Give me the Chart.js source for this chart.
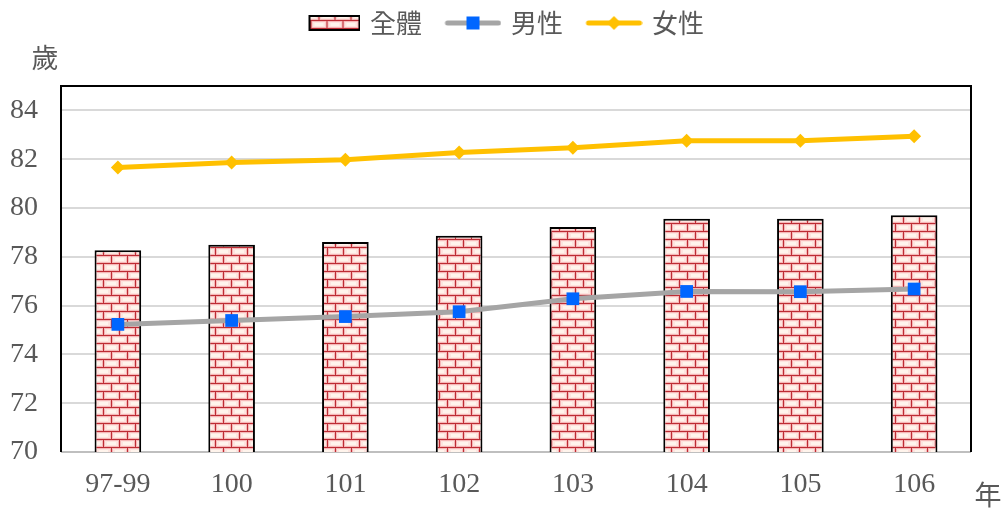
<!DOCTYPE html>
<html>
<head>
<meta charset="utf-8">
<script src="https://cdn.jsdelivr.net/npm/chart.js@4.4.1/dist/chart.umd.min.js"></script>
<style>
html,body{margin:0;padding:0;background:#fff;}
#wrap{width:1004px;height:510px;position:relative;}
</style>
</head>
<body>
<div id="wrap"><canvas id="c" width="1004" height="510"></canvas></div>
<script>
const categories = ['97-99', '100', '101', '102', '103', '104', '105', '106'];
const seriesNames = ['全體', '男性', '女性'];
const totalValues = [78.27, 78.49, 78.61, 78.86, 79.22, 79.56, 79.56, 79.70];
const maleValues = [75.23, 75.39, 75.55, 75.75, 76.28, 76.58, 76.57, 76.68];
const femaleValues = [81.66, 81.86, 81.98, 82.27, 82.47, 82.76, 82.76, 82.94];
const yTickValues = [70, 72, 74, 76, 78, 80, 82, 84];
const yUnit = '歲';
const xUnit = '年';

const GREY_TEXT = '#595959';
const CJK = "'Noto Sans CJK TC', 'Noto Sans CJK SC', sans-serif";
const NUM = "'Liberation Serif', 'DejaVu Serif', serif";

function makeBrick() {
  const c = document.createElement('canvas');
  c.width = 16; c.height = 16;
  const g = c.getContext('2d');
  g.fillStyle = '#bd2c34';
  g.fillRect(0, 0, 16, 16);
  function brick(x, y) {
    g.fillStyle = '#f5b7b7';
    g.fillRect(x, y, 15, 7);
    g.fillStyle = '#fde4df';
    g.fillRect(x + 1, y + 1, 13, 5);
    g.fillStyle = '#fff4ec';
    g.fillRect(x + 3, y + 2, 9, 3);
  }
  brick(0, 0);
  brick(-8, 8);
  brick(8, 8);
  return g.createPattern(c, 'repeat');
}
const brick = makeBrick();

function legendBrick() {
  const c = document.createElement('canvas');
  c.width = 73; c.height = 20;
  const g = c.getContext('2d');
  g.fillStyle = brick;
  g.fillRect(21, 2, 52, 16);
  g.strokeStyle = '#000';
  g.lineWidth = 2;
  g.strokeRect(22, 3, 50, 14);
  return c;
}
function legendLine(color, marker, markerColor) {
  const c = document.createElement('canvas');
  c.width = 73; c.height = 20;
  const g = c.getContext('2d');
  g.strokeStyle = color;
  g.lineWidth = 5;
  g.lineCap = 'round';
  g.beginPath();
  g.moveTo(19, 10); g.lineTo(70, 10);
  g.stroke();
  const cx = 16 + 28.5;
  g.fillStyle = markerColor;
  if (marker === 'rect') {
    g.fillRect(cx - 6.5, 3.5, 13, 13);
  } else {
    g.beginPath();
    g.moveTo(cx, 3); g.lineTo(cx + 7, 10); g.lineTo(cx, 17); g.lineTo(cx - 7, 10);
    g.closePath(); g.fill();
  }
  return c;
}
const legendImgs = [legendBrick(), legendLine('#a5a5a5', 'rect', '#0066ff'), legendLine('#ffc000', 'diamond', '#ffc000')];

const framePlugin = {
  id: 'frame',
  beforeInit(chart) {
    const lg = chart.legend;
    if (lg) {
      const fit = lg.fit;
      lg.fit = function () { fit.call(this); this.height += 40; };
      const draw = lg.draw;
      lg.draw = function () {
        const ctx = this.ctx;
        ctx.save();
        ctx.translate(12, 0);
        draw.call(this);
        ctx.restore();
      };
    }
  },
  beforeDatasetsDraw(chart) {
    const a = chart.chartArea;
    const ctx = chart.ctx;
    ctx.save();
    ctx.strokeStyle = '#bfbfbf';
    ctx.lineWidth = 2;
    ctx.beginPath();
    ctx.moveTo(a.left, a.bottom);
    ctx.lineTo(a.right, a.bottom);
    ctx.stroke();
    ctx.strokeStyle = '#000';
    ctx.lineWidth = 2;
    ctx.beginPath();
    ctx.moveTo(a.left, a.bottom);
    ctx.lineTo(a.left, a.top);
    ctx.lineTo(a.right, a.top);
    ctx.lineTo(a.right, a.bottom);
    ctx.stroke();
    ctx.restore();
  },
  afterDraw(chart) {
    const ctx = chart.ctx;
    ctx.save();
    ctx.fillStyle = GREY_TEXT;
    ctx.font = "27px " + CJK;
    ctx.textAlign = 'center';
    ctx.textBaseline = 'middle';
    ctx.fillText(yUnit, 45, 58);
    ctx.fillText(xUnit, 988, 495);
    ctx.restore();
  }
};

new Chart(document.getElementById('c'), {
  type: 'bar',
  data: {
    labels: categories,
    datasets: [
      {
        type: 'bar',
        label: seriesNames[0],
        data: totalValues,
        backgroundColor: brick,
        borderColor: '#000',
        borderWidth: 2,
        barPercentage: 0.41,
        categoryPercentage: 1,
        order: 3
      },
      {
        type: 'line',
        label: seriesNames[1],
        data: maleValues,
        borderColor: '#a5a5a5',
        backgroundColor: '#0066ff',
        borderWidth: 5,
        tension: 0,
        pointStyle: 'rect',
        pointRadius: 9,
        pointBorderWidth: 0,
        pointBackgroundColor: '#0066ff',
        order: 2
      },
      {
        type: 'line',
        label: seriesNames[2],
        data: femaleValues,
        borderColor: '#ffc000',
        backgroundColor: '#ffc000',
        borderWidth: 5,
        tension: 0,
        pointStyle: 'rectRot',
        pointRadius: 7,
        pointBorderWidth: 0,
        pointBackgroundColor: '#ffc000',
        order: 1
      }
    ]
  },
  options: {
    responsive: false,
    animation: false,
    devicePixelRatio: 1,
    layout: { padding: { left: 0, right: 33, top: 0, bottom: 0 } },
    plugins: {
      tooltip: { enabled: false },
      legend: {
        position: 'top',
        align: 'center',
        labels: {
          usePointStyle: true,
          pointStyleWidth: 66,
          padding: 10,
          color: GREY_TEXT,
          font: { family: CJK, size: 26 },
          sort: (a, b) => a.datasetIndex - b.datasetIndex,
          generateLabels(chart) {
            const items = Chart.defaults.plugins.legend.labels.generateLabels(chart);
            items.forEach(it => { it.pointStyle = legendImgs[it.datasetIndex]; it.fontColor = GREY_TEXT; });
            return items;
          }
        }
      }
    },
    scales: {
      x: {
        grid: { display: false, drawTicks: false },
        border: { display: false },
        ticks: { color: GREY_TEXT, font: { family: NUM, size: 28 }, padding: 16, maxRotation: 0, autoSkip: false },
        afterFit(s) { s.height = 58; }
      },
      y: {
        min: 70,
        max: 85,
        grid: { color: '#d9d9d9', lineWidth: 2, drawTicks: false },
        border: { display: false },
        ticks: { color: GREY_TEXT, font: { family: NUM, size: 28 }, padding: 23, stepSize: 2 },
        afterBuildTicks(s) { s.ticks = yTickValues.map(v => ({ value: v })); },
        afterFit(s) { s.width = 61; }
      }
    }
  },
  plugins: [framePlugin]
});
</script>
</body>
</html>
